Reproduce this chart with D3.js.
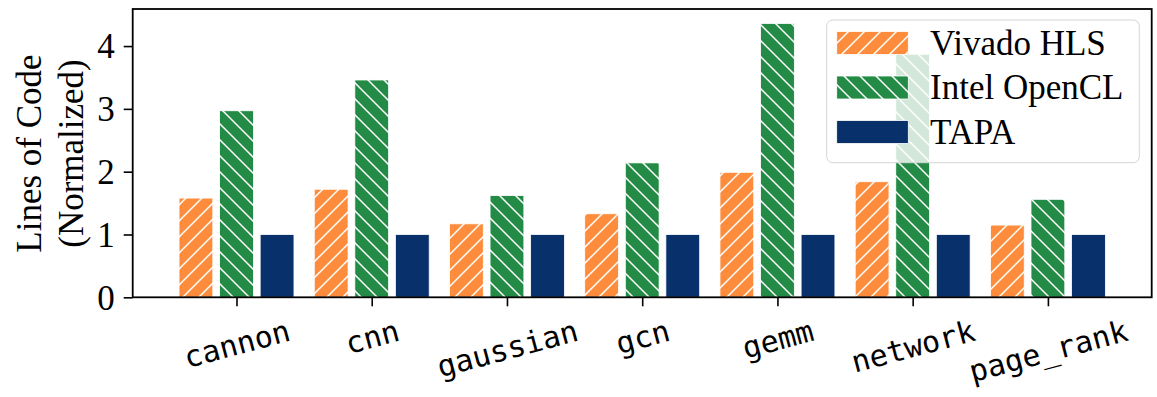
<!DOCTYPE html>
<html>
<head>
<meta charset="utf-8">
<script src="https://cdn.jsdelivr.net/npm/d3@7"></script>
<style>
  html, body { margin: 0; padding: 0; background: #fff; }
  svg { display: block; }
</style>
</head>
<body>
<svg id="chart" width="1157" height="397"></svg>
<script>
const categories = ["cannon", "cnn", "gaussian", "gcn", "gemm", "network", "page_rank"];
const seriesNames = ["Vivado HLS", "Intel OpenCL", "TAPA"];
const vivadoHLS   = [1.58, 1.72, 1.17, 1.33, 1.99, 1.84, 1.15];
const intelOpenCL = [2.97, 3.46, 1.62, 2.14, 4.36, 3.87, 1.56];
const tapa        = [1.00, 1.00, 1.00, 1.00, 1.00, 1.00, 1.00];
const yTicks = [0, 1, 2, 3, 4];
const yLabelLines = ["Lines of Code", "(Normalized)"];

const seriesValues = [vivadoHLS, intelOpenCL, tapa];
const colors = ["#fd8d3c", "#238b45", "#08306b"];
const hatches = ["fwd", "back", null];
const offsets = [-0.3, 0, 0.3];
const barW = 0.25;

const svg = d3.select("#chart");
const pLeft = 132.7, pRight = 1151.7, pTop = 9, pBottom = 297.3;

const x = d3.scaleLinear().domain([-0.7675, categories.length - 1 + 0.7675]).range([pLeft, pRight]);
const y = d3.scaleLinear().domain([0, 4.59]).range([pBottom, pTop]);

// hatch patterns (absolute coordinates, like matplotlib)
const defs = svg.append("defs");
const T = 16;
colors.forEach((c, i) => {
  if (!hatches[i]) return;
  const p = defs.append("pattern")
    .attr("id", "hatch" + i)
    .attr("patternUnits", "userSpaceOnUse")
    .attr("width", T).attr("height", T);
  p.append("rect").attr("width", T).attr("height", T).attr("fill", c);
  const d = hatches[i] === "fwd"
    ? `M-4,4 L4,-4 M0,${T} L${T},0 M${T-4},${T+4} L${T+4},${T-4}`
    : `M-4,${T-4} L4,${T+4} M0,0 L${T},${T} M${T-4},-4 L${T+4},4`;
  p.append("path").attr("d", d).attr("stroke", "#fff").attr("stroke-width", 1.5).attr("fill", "none");
});
const fillFor = i => hatches[i] ? `url(#hatch${i})` : colors[i];

// bars
seriesValues.forEach((vals, s) => {
  svg.append("g").selectAll("rect").data(vals).join("rect")
    .attr("x", (v, i) => x(i + offsets[s] - barW / 2))
    .attr("width", (v, i) => x(i + offsets[s] + barW / 2) - x(i + offsets[s] - barW / 2))
    .attr("y", v => y(v))
    .attr("height", v => y(0) - y(v))
    .attr("fill", fillFor(s))
    .attr("stroke", "#fff")
    .attr("stroke-width", 0.8);
});

// axes
const yAxis = d3.axisLeft(y).tickValues(yTicks).tickFormat(d3.format("d")).tickSize(9).tickPadding(9);
const gy = svg.append("g").attr("transform", `translate(${pLeft},0)`).call(yAxis);
gy.select(".domain").remove();
gy.selectAll(".tick line").attr("stroke", "#000").attr("stroke-width", 1.6);
gy.selectAll(".tick text")
  .attr("font-family", "'Liberation Serif', 'Times New Roman', serif")
  .attr("font-size", 35).attr("fill", "#000").attr("dy", "0.34em");

const xAxis = d3.axisBottom(x).tickValues(d3.range(categories.length)).tickFormat(i => categories[i]).tickSize(9);
const gx = svg.append("g").attr("transform", `translate(0,${pBottom})`).call(xAxis);
gx.select(".domain").remove();
gx.selectAll(".tick line").attr("stroke", "#000").attr("stroke-width", 1.6);
const ang = 15, sinA = Math.sin(ang * Math.PI / 180);
gx.selectAll(".tick text")
  .attr("font-family", "'DejaVu Sans Mono', monospace")
  .attr("font-size", 30).attr("fill", "#000")
  .attr("dy", null)
  .attr("text-anchor", "middle")
  .attr("dominant-baseline", "central")
  .each(function() {
    const w = this.getComputedTextLength();
    const cy = 32.7 + w * sinA / 2;
    d3.select(this).attr("y", 0).attr("transform", `translate(0,${cy}) rotate(${-ang})`);
  });

// frame
svg.append("rect")
  .attr("x", pLeft).attr("y", pTop)
  .attr("width", pRight - pLeft).attr("height", pBottom - pTop)
  .attr("fill", "none").attr("stroke", "#000").attr("stroke-width", 1.8);

// y label
const yl = svg.append("text")
  .attr("transform", `translate(0,153.5) rotate(-90)`)
  .attr("text-anchor", "middle")
  .attr("font-family", "'Liberation Serif', 'Times New Roman', serif")
  .attr("font-size", 35).attr("fill", "#000");
yl.selectAll("tspan").data(yLabelLines).join("tspan")
  .attr("x", 0).attr("y", (d, i) => 41 + i * 42.2)
  .text(d => d);

// legend
const lg = svg.append("g");
lg.append("rect")
  .attr("x", 826.7).attr("y", 20).attr("width", 312.6).attr("height", 142.7)
  .attr("rx", 6).attr("ry", 6)
  .attr("fill", "#fff").attr("fill-opacity", 0.8)
  .attr("stroke", "#d6d6d6").attr("stroke-width", 1);
const legY = d3.scaleLinear().domain([0, 2]).range([43, 132]);
seriesNames.forEach((n, i) => {
  lg.append("rect")
    .attr("x", 836.7).attr("y", legY(i) - 11.5).attr("width", 71.6).attr("height", 23)
    .attr("fill", fillFor(i)).attr("stroke", "#fff").attr("stroke-width", 0.8);
  lg.append("text")
    .attr("x", 930).attr("y", legY(i) + 11.8)
    .attr("font-family", "'Liberation Serif', 'Times New Roman', serif")
    .attr("font-size", 35).attr("fill", "#000")
    .text(n);
});
</script>
</body>
</html>
